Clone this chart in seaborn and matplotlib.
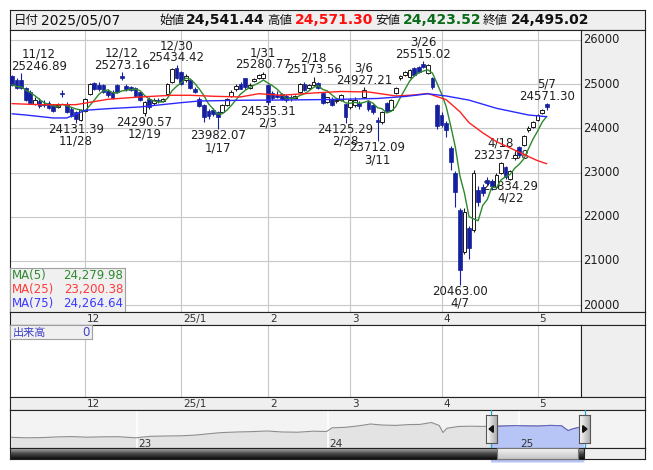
import numpy as np
import pandas as pd
import matplotlib
matplotlib.use('Agg')
import matplotlib.pyplot as plt
import matplotlib.transforms as mtransforms
from matplotlib.colors import LinearSegmentedColormap
from matplotlib.patches import Polygon, Rectangle
import seaborn as sns

# --- datos ----------------------------------------------------------------
dates = ('11/08 11/11 11/12 11/13 11/14 11/15 11/18 11/19 11/20 11/21 11/22 11/25 11/26 11/27 11/28 11/29 '
         '12/02 12/03 12/04 12/05 12/06 12/09 12/10 12/11 12/12 12/13 12/16 12/17 12/18 12/19 12/20 12/23 12/24 12/25 12/26 12/27 12/30 '
         '01/06 01/07 01/08 01/09 01/10 01/14 01/15 01/16 01/17 01/20 01/21 01/22 01/23 01/24 01/27 01/28 01/29 01/30 01/31 '
         '02/03 02/04 02/05 02/06 02/07 02/10 02/12 02/13 02/14 02/17 02/18 02/19 02/20 02/21 02/25 02/26 02/27 02/28 '
         '03/03 03/04 03/05 03/06 03/07 03/10 03/11 03/12 03/13 03/14 03/17 03/18 03/19 03/21 03/24 03/25 03/26 03/27 03/28 03/31 '
         '04/01 04/02 04/03 04/04 04/07 04/08 04/09 04/10 04/11 04/14 04/15 04/16 04/17 04/18 04/21 04/22 04/23 04/24 04/25 04/28 04/30 '
         '05/01 05/02 05/07').split()

opens = [
    25186, 25090, 25090, 24910, 24830, 24560, 24620, 24560, 24580, 24520, 24490, 24810, 24560, 24450, 24360, 24200,
    24400, 24780, 25020, 24990, 24990, 24850, 24830, 24980, 25180, 24960, 24940, 24910, 24830, 24350, 24660, 24580, 24650, 24630, 24780, 25050, 25370,
    25280, 25100, 25090, 24900, 24660, 24530, 24400, 24420, 24360, 24380, 24540, 24740, 24880, 25010, 25130, 24920, 25070, 25130, 25150,
    24990, 24800, 24760, 24780, 24740, 24720, 24690, 24830, 25000, 24920, 24990, 25030, 24790, 24600, 24660, 24610, 24640, 24550,
    24480, 24530, 24580, 24720, 24600, 24520, 24200, 24150, 24570, 24420, 24800, 25150, 25210, 25170, 25360, 25390, 25460, 25250, 25140, 24520,
    24300, 24120, 23560, 22990, 22150, 21200, 21750, 21700, 22610, 22680, 22840, 22810, 22670, 22990, 23130, 22860, 23330, 23570, 23630, 23960, 24030,
    24190, 24350, 24541.44]
highs = [
    25210, 25130, 25246.89, 24940, 24870, 24700, 24680, 24650, 24620, 24560, 24570, 24870, 24600, 24480, 24400, 24440,
    24690, 25030, 25060, 25040, 25010, 24880, 24860, 25000, 25273.16, 25000, 24970, 24930, 24850, 24620, 24700, 24680, 24690, 24690, 25020, 25370, 25434.42,
    25300, 25220, 25120, 24930, 24700, 24560, 24450, 24460, 24390, 24560, 24690, 24860, 25000, 25060, 25150, 25020, 25140, 25230, 25280.77,
    25010, 24840, 24850, 24800, 24780, 24760, 24760, 25020, 25040, 25000, 25173.56, 25060, 24810, 24720, 24700, 24680, 24780, 24580,
    24680, 24700, 24620, 24927.21, 24640, 24550, 24250, 24400, 24600, 24670, 24940, 25210, 25300, 25350, 25380, 25420, 25515.02, 25460, 25160, 24550,
    24360, 24160, 23600, 23030, 22200, 22200, 21800, 23060, 22700, 22750, 22890, 22860, 22980, 23237.08, 23160, 23050, 23450, 23600, 23860, 24060, 24170,
    24330, 24440, 24571.30]
lows = [
    24960, 24890, 24880, 24620, 24560, 24520, 24470, 24480, 24440, 24360, 24460, 24700, 24350, 24250, 24131.39, 24170,
    24380, 24760, 24860, 24850, 24790, 24720, 24660, 24800, 25100, 24850, 24840, 24720, 24620, 24290.57, 24440, 24540, 24580, 24600, 24760, 25030, 25110,
    24990, 25060, 24890, 24790, 24480, 24150, 24220, 24290, 23982.07, 24360, 24510, 24720, 24850, 24880, 24900, 24880, 25050, 25110, 25120,
    24535.31, 24650, 24680, 24640, 24600, 24620, 24660, 24800, 24840, 24900, 24960, 24890, 24550, 24580, 24500, 24580, 24610, 24125.29,
    24450, 24480, 24450, 24700, 24400, 24330, 23712.09, 24100, 24360, 24400, 24780, 25100, 25180, 25150, 25180, 25260, 25360, 25220, 24900, 23990,
    24040, 23800, 23060, 22220, 20463.00, 21150, 21050, 21650, 22250, 22480, 22720, 22600, 22640, 22970, 22860, 22834.29, 23280, 23370, 23600, 23920, 24000,
    24170, 24330, 24423.52]
closes = [
    24990, 24910, 24920, 24650, 24580, 24640, 24500, 24540, 24470, 24400, 24540, 24780, 24380, 24280, 24220, 24420,
    24660, 25000, 24890, 24880, 24820, 24760, 24690, 24830, 25140, 24880, 24860, 24740, 24650, 24600, 24480, 24640, 24610, 24660, 25000, 25340, 25140,
    25010, 25190, 24920, 24820, 24510, 24260, 24280, 24330, 24250, 24530, 24660, 24830, 24960, 24900, 24940, 24990, 25110, 25200, 25230,
    24600, 24690, 24720, 24670, 24640, 24680, 24730, 25000, 24870, 24980, 25060, 24920, 24580, 24700, 24530, 24650, 24750, 24260,
    24650, 24650, 24510, 24870, 24440, 24370, 24150, 24380, 24400, 24640, 24910, 25190, 25280, 25320, 25210, 25280, 25390, 25430, 24940, 24060,
    24080, 23970, 23240, 22560, 20800, 22110, 21300, 23000, 22340, 22540, 22770, 22700, 22940, 23220, 22900, 23030, 23400, 23400, 23830, 24010, 24140,
    24300, 24410, 24495.02]

# medias moviles largas
ma25_dates = ['11/08', '11/18', '11/28', '12/09', '12/18', '12/27', '01/08', '01/16', '01/24', '01/30', '02/06', '02/18', '02/27',
              '03/07', '03/17', '03/24', '03/27', '04/02', '04/07', '04/09', '04/14', '04/17', '04/22', '04/25', '05/01', '05/07']
ma25_vals = [24560, 24537, 24537, 24659, 24711, 24749, 24749, 24727, 24711, 24785, 24749, 24801, 24835,
             24824, 24733, 24756, 24790, 24650, 24378, 24130, 23900, 23700, 23557, 23410, 23270, 23200.38]
ma75_dates = ['11/08', '11/13', '11/21', '11/26', '12/02', '12/09', '12/18', '01/06', '01/10', '01/24', '02/07', '02/25',
              '03/11', '03/19', '03/27', '04/02', '04/09', '04/17', '04/28', '05/07']
ma75_vals = [24330, 24303, 24236, 24236, 24410, 24446, 24485, 24582, 24620, 24636, 24643, 24654,
             24677, 24722, 24783, 24733, 24640, 24455, 24303, 24264.64]

# maximos / minimos marcados
peaks = [('11/12', 'high'), ('11/28', 'low'), ('12/12', 'high'), ('12/19', 'low'), ('12/30', 'high'),
         ('01/17', 'low'), ('01/31', 'high'), ('02/03', 'low'), ('02/18', 'high'), ('02/28', 'low'),
         ('03/06', 'high'), ('03/11', 'low'), ('03/26', 'high'), ('04/07', 'low'), ('04/18', 'high'),
         ('04/22', 'low'), ('05/07', 'high')]

# navegador (historia larga)
nav_years = [2022.34, 2022.42, 2022.50, 2022.58, 2022.66, 2022.74, 2022.82, 2022.90, 2022.99, 2023.07, 2023.15, 2023.23,
             2023.31, 2023.38, 2023.44, 2023.52, 2023.60, 2023.68, 2023.76, 2023.84, 2023.92, 2023.99, 2024.02, 2024.09,
             2024.16, 2024.22, 2024.28, 2024.35, 2024.42, 2024.48, 2024.54, 2024.58, 2024.60, 2024.62, 2024.68, 2024.74,
             2024.80, 2024.86, 2024.92, 2024.98, 2025.04, 2025.10, 2025.16, 2025.22, 2025.255, 2025.28, 2025.31, 2025.335]
nav_values = [16580, 16240, 16380, 16850, 17050, 16650, 16920, 16980, 16240, 17250, 17450, 17590,
              18120, 19060, 19730, 20140, 20400, 20810, 20140, 20000, 20670, 20470, 22950, 23290,
              24300, 25500, 24830, 24560, 25100, 25240, 26510, 24500, 19800, 22620, 23830, 24030,
              23890, 23960, 24160, 24430, 24230, 24160, 24560, 24360, 21080, 22280, 23160, 23830]

ma_last = {'MA(5)': 24279.98, 'MA(25)': 23200.38, 'MA(75)': 24264.64}
header = {'date': '2025/05/07', 'open': '24,541.44', 'high': '24,571.30', 'low': '24,423.52', 'close': '24,495.02'}

# --- estilo ------------------------------------------------------------------
sns.set_style('white')
plt.rcParams['font.family'] = ['DejaVu Sans', 'Noto Sans CJK JP']

W, H = 653, 470
fig = plt.figure(figsize=(W / 100, H / 100), dpi=100)

NAVY = '#15209e'
GRID = '#c8c8c8'
PANEL = '#efefef'
PX = 4.57            # pixeles por dia de bolsa
X0 = -2 / PX


def px_axes(x0, y0, x1, y1, fc='white', ec='#222222'):
    a = fig.add_axes([x0 / W, 1 - y1 / H, (x1 - x0) / W, (y1 - y0) / H])
    a.set_facecolor(fc)
    a.set_xticks([])
    a.set_yticks([])
    for s in a.spines.values():
        s.set_color(ec)
        s.set_linewidth(0.8)
    return a


def ftext(x, y, s, **kw):
    fig.text(x / W, 1 - y / H, s, va='center', **kw)


def gradient(a, colors, vertical=True):
    g = np.linspace(0, 1, 64)
    g = g.reshape(-1, 1) if vertical else g.reshape(1, -1)
    cmap = LinearSegmentedColormap.from_list('g', colors)
    a.imshow(g, cmap=cmap, aspect='auto', extent=[0, 1, 0, 1], origin='upper')
    a.set_xlim(0, 1)
    a.set_ylim(0, 1)


def short(d):
    m, dd = d.split('/')
    return f'{int(m)}/{int(dd)}'


n = len(dates)
df = pd.DataFrame({'i': np.arange(n), 'open': opens, 'high': highs, 'low': lows, 'close': closes})
df['ma5'] = df['close'].rolling(5, min_periods=1).mean()

month_pos = [i for i in range(1, n) if dates[i][:2] != dates[i - 1][:2]]
month_lab = ['25/1' if dates[i][:2] == '01' else str(int(dates[i][:2])) for i in month_pos]

# --- cabecera ----------------------------------------------------------------
ax_h = px_axes(10, 10, 645, 30, PANEL)
ftext(14, 20.5, '日付', fontsize=9, color='#111111')
ftext(41, 20.5, header['date'], fontsize=10, color='#111111')
ftext(159, 20.5, '始値', fontsize=9, color='#111111')
ftext(186, 20.5, header['open'], fontsize=10, fontweight='bold', color='#111111')
ftext(267, 20.5, '高値', fontsize=9, color='#111111')
ftext(295, 20.5, header['high'], fontsize=10, fontweight='bold', color='#ff1010')
ftext(375, 20.5, '安値', fontsize=9, color='#111111')
ftext(403, 20.5, header['low'], fontsize=10, fontweight='bold', color='#0b6b1a')
ftext(483, 20.5, '終値', fontsize=9, color='#111111')
ftext(511, 20.5, header['close'], fontsize=10, fontweight='bold', color='#111111')

# --- panel de precios ----------------------------------------------------------
ax = px_axes(10, 30, 581, 312)
ax.set_xlim(X0, X0 + 571 / PX)
ax.set_ylim(19846, 26226)
for v in range(20000, 26001, 1000):
    ax.axhline(v, color=GRID, lw=0.8, zorder=0)
for p in month_pos:
    ax.axvline(p, color=GRID, lw=0.8, zorder=0)

up = df['close'] >= df['open']
body = (df['close'] - df['open']).abs().clip(lower=12)
ax.vlines(df['i'][up], df['low'][up], df['high'][up], color='#1a1a1a', lw=0.8, zorder=4)
ax.vlines(df['i'][~up], df['low'][~up], df['high'][~up], color=NAVY, lw=0.8, zorder=4)
ax.bar(df['i'][up], body[up], bottom=df['open'][up], width=0.82, color='white',
       edgecolor='#1a1a1a', linewidth=0.7, zorder=5)
ax.bar(df['i'][~up], body[~up], bottom=df['close'][~up], width=0.82, color=NAVY,
       edgecolor=NAVY, linewidth=0.5, zorder=5)

sns.lineplot(x=df['i'], y=df['ma5'], ax=ax, color='#2c8a2c', lw=1.0, zorder=6)
sns.lineplot(x=[dates.index(d) for d in ma25_dates], y=ma25_vals, ax=ax, color='#ff2020', lw=1.0, zorder=6)
sns.lineplot(x=[dates.index(d) for d in ma75_dates], y=ma75_vals, ax=ax, color='#2a2aff', lw=1.0, zorder=6)
ax.set_xlabel('')
ax.set_ylabel('')
ax.set_xticks([])
ax.set_yticks([])

for d, kind in peaks:
    i = dates.index(d)
    val = highs[i] if kind == 'high' else lows[i]
    cx = (i - X0) * PX
    hw = 28
    dx = max(0, 1 + hw - cx)
    dx = min(dx, 570 - hw - cx) if cx + hw > 570 else dx
    s1, s2 = (short(d), f'{val:.2f}') if kind == 'high' else (f'{val:.2f}', short(d))
    o1, o2 = (19, 7) if kind == 'high' else (-6.5, -18.5)
    for s, o in ((s1, o1), (s2, o2)):
        ax.annotate(s, xy=(i, val), xytext=(dx, o), textcoords='offset pixels', ha='center', va='center',
                    fontsize=8.5, color='#202020', zorder=2)

# eje derecho
ax_r = px_axes(581, 30, 645, 312, PANEL)
ax_r.set_ylim(ax.get_ylim())
tr = mtransforms.blended_transform_factory(ax_r.transAxes, ax_r.transData)
for v in range(20000, 26001, 1000):
    ax_r.text(0.04, v, str(v), transform=tr, va='center', ha='left', fontsize=8.3, color='#202020')

# leyenda de medias
ax_l = px_axes(10, 268, 125, 312, '#f0f0f0', ec='#a0a0a0')
for k, (name, col) in enumerate(zip(ma_last, ['#2f8a2f', '#ff3a3a', '#3a3aff'])):
    yy = 0.83 - k * 0.315
    ax_l.text(0.02, yy, name, transform=ax_l.transAxes, va='center', ha='left', fontsize=8.5, color=col)
    ax_l.text(0.985, yy, f'{ma_last[name]:,.2f}', transform=ax_l.transAxes, va='center', ha='right',
              fontsize=8.5, color=col)


# --- tiras de fechas -------------------------------------------------------------
def date_strip(y0, y1):
    a = px_axes(10, y0, 645, y1, PANEL)
    a.set_xlim(X0, X0 + 635 / PX)
    a.set_ylim(0, 1)
    for p, lab in zip(month_pos, month_lab):
        a.text(p + 0.45, 0.45, lab, va='center', ha='left', fontsize=7.5, color='#333333')
    return a


date_strip(312, 325)

# --- volumen -------------------------------------------------------------------
ax_v = px_axes(10, 325, 581, 397)
ax_v.set_xlim(ax.get_xlim())
for p in month_pos:
    ax_v.axvline(p, color=GRID, lw=0.8, zorder=0)
px_axes(581, 325, 645, 397, PANEL)
ax_vb = px_axes(10, 325, 92, 339, '#f0f0f0', ec='#a0a0a0')
ax_vb.text(0.03, 0.45, '出来高', transform=ax_vb.transAxes, va='center', ha='left', fontsize=8, color='#4040c8')
ax_vb.text(0.97, 0.45, '0', transform=ax_vb.transAxes, va='center', ha='right', fontsize=8.5, color='#4040c8')

date_strip(397, 410)

# --- navegador -------------------------------------------------------------------
NAV0 = 2022.333
ax_n = px_axes(10, 410, 645, 448, '#f3f3f3')
ax_n.set_xlim(NAV0, NAV0 + 635 / 191)
ax_n.set_ylim(9400, 34900)
ax_n.fill_between(nav_years, nav_values, 0, color='#e3e3e3', lw=0, zorder=1)
for yr in (2023, 2024, 2025):
    ax_n.axvline(yr, color='white', lw=1.2, zorder=2)
    ax_n.text(yr + 0.005, 12400, str(yr % 100), va='center', ha='left', fontsize=7.5, color='#333333', zorder=3)
sns.lineplot(x=nav_years, y=nav_values, ax=ax_n, color='#8e8e8e', lw=0.8, zorder=3)

win0 = 2024 + (pd.Timestamp('2024-11-08').dayofyear - 1) / 366
win1 = 2025 + (pd.Timestamp('2025-05-07').dayofyear - 1) / 365
clip = Rectangle((win0, 0), win1 - win0, 40000, transform=ax_n.transData)
blue_fill = ax_n.fill_between(nav_years, nav_values, 0, color='#b6c5f5', lw=0, zorder=4)
blue_fill.set_clip_path(clip)
blue_line, = ax_n.plot(nav_years, nav_values, color='#6767c4', lw=0.8, zorder=5)
blue_line.set_clip_path(clip)
ax_n.text(2025.005, 12400, '25', va='center', ha='left', fontsize=7.5, color='#333333', zorder=6)
for wx in (win0, win1):
    ax_n.axvline(wx, color='#1fa3dc', lw=0.9, zorder=6)
ax_n.set_xlabel('')
ax_n.set_ylabel('')
ax_n.set_xticks([])
ax_n.set_yticks([])

# asas del navegador
for (hx0, hx1), tri in (((486, 497), [(0.28, 0.5), (0.66, 0.62), (0.66, 0.38)]),
                        ((579, 590), [(0.72, 0.5), (0.34, 0.62), (0.34, 0.38)])):
    ah = px_axes(hx0, 415, hx1, 443, ec='#555555')
    gradient(ah, ['#ffffff', '#aeaeae'], vertical=False)
    ah.add_patch(Polygon(tri, closed=True, color='#111111', transform=ah.transAxes))

# barra de desplazamiento
a_s = px_axes(10, 448, 584, 459, ec='#222222')
gradient(a_s, ['#b4b4b4', '#4a4a4a', '#0e0e0e'])
a_t = px_axes(497, 448, 578, 459, ec='#777777')
gradient(a_t, ['#f6f6f6', '#c4c4c4'])
px_axes(584, 448, 645, 459, PANEL)

plt.savefig('out.png', dpi=100)
